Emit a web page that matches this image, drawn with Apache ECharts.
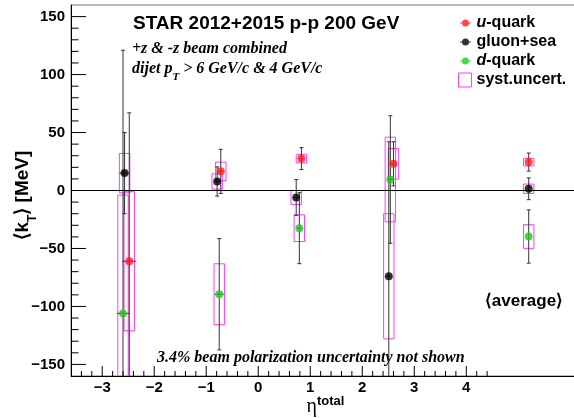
<!DOCTYPE html>
<html>
<head>
<meta charset="utf-8">
<script src="https://cdn.jsdelivr.net/npm/echarts@6/dist/echarts.min.js"></script>
<style>
  html, body { margin: 0; padding: 0; background: #fff; }
  #chart { width: 574px; height: 418px; }
</style>
</head>
<body>
<div id="chart"></div>
<script>
// u-quark points: eta position, <kT> value, stat. error, syst. error, eta error
const etaU    = [-2.48, -0.72, 0.83, 2.60, 5.20];
const kU      = [-61, 16.5, 27.5, 23, 24.5];
const statU   = [128, 19, 9.5, 19, 7.8];
const systU   = [60, 8, 3.7, 13.2, 3.3];
const etaErrU = [0.135, 0.05, 0.04, 0.05, 0];

// gluon+sea points
const etaG    = [-2.57, -0.79, 0.73, 2.51, 5.20];
const kG      = [15, 7.8, -6, -74, 1.5];
const statG   = [35, 12.6, 15.4, 116, 9.4];
const systG   = [17, 6.6, 6, 54, 4];
const etaErrG = [0.1, 0.05, 0.05, 0.05, 0];

// d-quark points
const etaD    = [-2.60, -0.75, 0.79, 2.54, 5.20];
const kD      = [-106, -89.5, -32.5, 9.5, -39.7];
const statD   = [227, 48, 30.6, 55, 23];
const systD   = [102, 26.3, 11.5, 36.5, 10.2];
const etaErrD = [0.12, 0.09, 0.05, 0.05, 0];

// axis tick labels
const xTickLabels = [-3, -2, -1, 0, 1, 2, 3, 4];
const yTickLabels = [-150, -100, -50, 0, 50, 100, 150];

const X_MIN = -3.6, X_MAX = 6.09, Y_MIN = -160, Y_MAX = 160;
const BOX_HALF = 0.1;
const RED = '#ff1a1a', BLACK = '#000000', GREEN = '#22c822', SYST = '#ff3cff', ERR = '#333333';
const SANS = '"Liberation Sans", Arial, Helvetica, sans-serif';
const SERIF = '"Liberation Serif", "Times New Roman", serif';

function zip(eta, k) { return eta.map((e, i) => [e, k[i]]); }
function errData(eta, k, stat, etaErr) { return eta.map((e, i) => [e, k[i], stat[i], etaErr[i]]); }
function boxData(eta, k, syst) { return eta.map((e, i) => [e, k[i], syst[i]]); }

function renderErr(params, api) {
  const x = api.value(0), y = api.value(1), ey = api.value(2), ex = api.value(3);
  const top = api.coord([x, y + ey]), bot = api.coord([x, y - ey]);
  const st = { stroke: ERR, lineWidth: 1 };
  const cap = 2;
  const children = [
    { type: 'line', shape: { x1: top[0], y1: top[1], x2: bot[0], y2: bot[1] }, style: st },
    { type: 'line', shape: { x1: top[0] - cap, y1: top[1], x2: top[0] + cap, y2: top[1] }, style: st },
    { type: 'line', shape: { x1: bot[0] - cap, y1: bot[1], x2: bot[0] + cap, y2: bot[1] }, style: st }
  ];
  if (ex > 0) {
    const l = api.coord([x - ex, y]), r = api.coord([x + ex, y]);
    children.push({ type: 'line', shape: { x1: l[0], y1: l[1], x2: r[0], y2: r[1] }, style: st });
  }
  return { type: 'group', children };
}

function renderBox(params, api) {
  const x = api.value(0), y = api.value(1), s = api.value(2);
  const p1 = api.coord([x - BOX_HALF, y + s]);
  const p2 = api.coord([x + BOX_HALF, y - s]);
  return {
    type: 'rect',
    shape: { x: p1[0], y: p1[1], width: p2[0] - p1[0], height: p2[1] - p1[1] },
    style: { fill: 'none', stroke: SYST, lineWidth: 1 }
  };
}

// tick marks: kind 0 = x minor, 1 = x major, 2 = y minor, 3 = y major
const tickData = [];
for (let i = -17; i <= 22; i++) tickData.push([i / 5, i % 5 === 0 ? 1 : 0]);
for (let i = -15; i <= 15; i++) tickData.push([i * 10, i % 5 === 0 ? 3 : 2]);

function fmt(v) { return v < 0 ? '\u2212' + Math.abs(v) : String(v); }

function renderTick(params, api) {
  const v = api.value(0), kind = api.value(1);
  const st = { stroke: '#000', lineWidth: 1 };
  if (kind <= 1) {
    const p = api.coord([v, Y_MIN]);
    const len = kind === 1 ? 10 : 5;
    const ch = [{ type: 'line', shape: { x1: p[0], y1: p[1], x2: p[0], y2: p[1] - len }, style: st }];
    if (kind === 1 && xTickLabels.indexOf(Math.round(v)) >= 0) {
      ch.push({ type: 'text', x: p[0], y: p[1] + 4,
        style: { text: fmt(Math.round(v)), fontSize: 15, fontWeight: 'bold', fontFamily: SANS,
                 fill: '#000', align: 'center', verticalAlign: 'top' } });
    }
    return { type: 'group', children: ch };
  } else {
    const p = api.coord([X_MIN, v]);
    const len = kind === 3 ? 15 : 7.5;
    const ch = [{ type: 'line', shape: { x1: p[0], y1: p[1], x2: p[0] + len, y2: p[1] }, style: st }];
    if (kind === 3 && yTickLabels.indexOf(v) >= 0) {
      ch.push({ type: 'text', x: p[0] - 6, y: p[1],
        style: { text: fmt(v), fontSize: 15, fontWeight: 'bold', fontFamily: SANS,
                 fill: '#000', align: 'right', verticalAlign: 'middle' } });
    }
    return { type: 'group', children: ch };
  }
}

// legend marker: dot with a short horizontal bar (same winding so nothing cancels out)
const dotIcon = 'path://M0,0L0.01,0Z M0,14L0.01,14Z M1,6.5H12V7.5H1Z M3,7a3.5,3.5 0 1,1 7,0a3.5,3.5 0 1,1 -7,0Z';

const chart = echarts.init(document.getElementById('chart'), null, { renderer: 'canvas' });
chart.setOption({
  animation: false,
  backgroundColor: '#fff',
  grid: { left: 71, right: -1, top: 5, bottom: 42, show: true, borderColor: '#777', borderWidth: 1,
          containLabel: false, outerBoundsMode: 'none' },
  xAxis: {
    type: 'value', min: X_MIN, max: X_MAX,
    axisLine: { show: true, onZero: false, lineStyle: { color: '#000', width: 1 } },
    axisTick: { show: false }, axisLabel: { show: false }, splitLine: { show: false }
  },
  yAxis: {
    type: 'value', min: Y_MIN, max: Y_MAX,
    axisLine: { show: true, onZero: false, lineStyle: { color: '#000', width: 1 } },
    axisTick: { show: false }, axisLabel: { show: false }, splitLine: { show: false }
  },
  legend: {
    orient: 'vertical', left: 458, top: 15, padding: 0, itemWidth: 13, itemHeight: 14, itemGap: 3,
    selectedMode: false,
    textStyle: { fontSize: 16, fontWeight: 'bold', fontFamily: SANS, color: '#000',
      rich: { i: { fontSize: 16, fontWeight: 'bold', fontStyle: 'italic', fontFamily: SANS, color: '#000' } } },
    formatter: function (name) {
      if (name === 'u-quark') return '{i|u}-quark';
      if (name === 'd-quark') return '{i|d}-quark';
      return name;
    },
    data: [
      { name: 'u-quark', icon: dotIcon },
      { name: 'gluon+sea', icon: dotIcon },
      { name: 'd-quark', icon: dotIcon },
      { name: 'syst.uncert.', icon: 'rect', itemStyle: { color: 'rgba(0,0,0,0)', borderColor: SYST, borderWidth: 1 } }
    ]
  },
  graphic: [
    { type: 'text', x: 133, y: 24, style: { text: 'STAR 2012+2015 p-p 200 GeV', fontSize: 19, fontWeight: 'bold',
        fontFamily: SANS, fill: '#000', align: 'left', verticalAlign: 'middle' } },
    { type: 'text', x: 132, y: 49, style: { text: '+z & -z beam combined', fontSize: 16, fontWeight: 'bold',
        fontStyle: 'italic', fontFamily: SERIF, fill: '#000', align: 'left', verticalAlign: 'middle' } },
    { type: 'text', x: 132, y: 61, style: {
        text: '{m|dijet p}{s|T}{m| > 6 GeV/c & 4 GeV/c}{z| }',
        align: 'left', verticalAlign: 'top',
        rich: {
          m: { fontSize: 16, fontWeight: 'bold', fontStyle: 'italic', fontFamily: SERIF, fill: '#000', lineHeight: 16, verticalAlign: 'top' },
          s: { fontSize: 11, fontWeight: 'bold', fontStyle: 'italic', fontFamily: SERIF, fill: '#000', lineHeight: 11, verticalAlign: 'bottom' },
          z: { fontSize: 1, lineHeight: 22 }
        } } },
    { type: 'text', x: 157, y: 357.5, style: { text: '3.4% beam polarization uncertainty not shown', fontSize: 16,
        fontWeight: 'bold', fontStyle: 'italic', fontFamily: SERIF, fill: '#000', align: 'left', verticalAlign: 'middle' } },
    { type: 'text', x: 524, y: 301, style: { text: '\u27e8average\u27e9', fontSize: 17, fontWeight: 'bold',
        fontFamily: SANS, fill: '#000', align: 'center', verticalAlign: 'middle' } },
    { type: 'text', x: 26, y: 195, rotation: Math.PI / 2, style: {
        text: '{a|\u27e8k}{s|T}{a|\u27e9 [MeV]}{z| }',
        align: 'center', verticalAlign: 'middle',
        rich: {
          a: { fontSize: 19, fontWeight: 'bold', fontFamily: SANS, fill: '#000', lineHeight: 19, verticalAlign: 'top' },
          s: { fontSize: 12, fontWeight: 'bold', fontFamily: SANS, fill: '#000', lineHeight: 12, verticalAlign: 'bottom' },
          z: { fontSize: 1, lineHeight: 25 }
        } } },
    { type: 'text', x: 317, y: 407, style: { text: '\u03b7', fontSize: 20, fontFamily: SERIF, fill: '#000',
        align: 'right', verticalAlign: 'middle' } },
    { type: 'text', x: 317, y: 401, style: { text: 'total', fontSize: 13, fontWeight: 'bold', fontFamily: SANS, fill: '#000',
        align: 'left', verticalAlign: 'middle' } }
  ],
  series: [
    { type: 'custom', name: 'syst.uncert.', renderItem: renderBox, clip: true, silent: true,
      itemStyle: { color: SYST },
      data: [].concat(boxData(etaG, kG, systG), boxData(etaD, kD, systD), boxData(etaU, kU, systU)) },
    { type: 'custom', name: 'stat-g', renderItem: renderErr, clip: true, silent: true, data: errData(etaG, kG, statG, etaErrG) },
    { type: 'custom', name: 'stat-d', renderItem: renderErr, clip: true, silent: true, data: errData(etaD, kD, statD, etaErrD) },
    { type: 'custom', name: 'stat-u', renderItem: renderErr, clip: true, silent: true, data: errData(etaU, kU, statU, etaErrU) },
    { type: 'custom', name: 'ticks', renderItem: renderTick, clip: false, silent: true, data: tickData, z: 5 },
    { type: 'scatter', name: 'gluon+sea', symbol: 'circle', symbolSize: 8, itemStyle: { color: BLACK }, data: zip(etaG, kG), z: 4,
      markLine: { silent: true, symbol: 'none', label: { show: false }, lineStyle: { color: '#000', width: 1, type: 'solid' },
                  data: [{ yAxis: 0 }] } },
    { type: 'scatter', name: 'd-quark', symbol: 'circle', symbolSize: 8, itemStyle: { color: GREEN }, data: zip(etaD, kD), z: 4 },
    { type: 'scatter', name: 'u-quark', symbol: 'circle', symbolSize: 8, itemStyle: { color: RED }, data: zip(etaU, kU), z: 4 }
  ]
});
</script>
</body>
</html>
